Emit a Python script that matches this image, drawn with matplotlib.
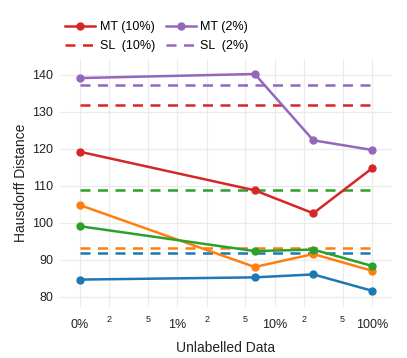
import matplotlib
matplotlib.use("Agg")
import matplotlib.pyplot as plt
from matplotlib.ticker import FixedLocator, FixedFormatter

plt.rcParams['font.family'] = ['Liberation Sans', 'DejaVu Sans']

x_vals = [0.1, 6.25, 25, 100]
mt_blue = [84.7, 85.3, 86.1, 81.7]
mt_orange = [104.8, 88.1, 91.6, 87.1]
mt_green = [99.1, 92.4, 92.8, 88.4]
mt_red = [119.2, 108.8, 102.6, 114.7]
mt_purple = [139.1, 140.2, 122.3, 119.7]

sl_blue = 91.8
sl_orange = 93.1
sl_green = 109.0
sl_red = 131.8
sl_purple = 137.2

major_ticks = [0.1, 1, 10, 100]
major_labels = ["0%", "1%", "10%", "100%"]
minor_ticks = [0.2, 0.5, 2, 5, 20, 50]
minor_labels = ["2", "5", "2", "5", "2", "5"]
y_ticks = [80, 90, 100, 110, 120, 130, 140]

colors = {'blue': '#1f77b4', 'orange': '#ff7f0e', 'green': '#2ca02c',
          'red': '#d62728', 'purple': '#9467bd'}

fig = plt.figure(figsize=(4.07, 3.58), dpi=100)
ax = fig.add_axes([60/407, 1-307/358, (392-60)/407, (307-59)/358])

handles = {}
for name, vals in [('blue', mt_blue), ('orange', mt_orange), ('green', mt_green),
                   ('red', mt_red), ('purple', mt_purple)]:
    h, = ax.plot(x_vals, vals, '-o', color=colors[name], lw=1.8, ms=5, zorder=3)
    handles['mt_' + name] = h
for name, v in [('blue', sl_blue), ('orange', sl_orange), ('green', sl_green),
                ('red', sl_red), ('purple', sl_purple)]:
    h, = ax.plot([x_vals[0], x_vals[-1]], [v, v], '--', color=colors[name],
                 lw=1.8, dashes=(4, 3), zorder=2)
    handles['sl_' + name] = h

ax.set_xscale('log')
ax.set_xlim(0.0623, 161)
ax.set_ylim(77.3, 144.25)
ax.xaxis.set_major_locator(FixedLocator(major_ticks))
ax.xaxis.set_major_formatter(FixedFormatter(major_labels))
ax.xaxis.set_minor_locator(FixedLocator(minor_ticks))
ax.xaxis.set_minor_formatter(FixedFormatter(minor_labels))
ax.set_yticks(y_ticks)
ax.tick_params(axis='both', which='both', length=0, colors='#222222')
ax.tick_params(axis='x', which='major', labelsize=9, pad=9)
ax.tick_params(axis='x', which='minor', labelsize=6.5, pad=6)
ax.tick_params(axis='y', labelsize=9, pad=5)
ax.grid(True, which='both', color='#ebebeb', lw=0.9)
ax.set_axisbelow(True)
for s in ax.spines.values():
    s.set_visible(False)

ax.set_xlabel('Unlabelled Data', fontsize=10, color='#222222', labelpad=7)
ax.set_ylabel('Hausdorff Distance', fontsize=10, color='#222222', labelpad=3)

leg = fig.legend([handles['mt_red'], handles['sl_red'], handles['mt_purple'], handles['sl_purple']],
                 ['MT (10%)', 'SL  (10%)', 'MT (2%)', 'SL  (2%)'],
                 ncol=2, loc='upper left', bbox_to_anchor=(54/407, 1-10/358),
                 frameon=False, fontsize=9, handlelength=2.4, columnspacing=0.8,
                 labelspacing=0.55, handletextpad=0.4)

fig.savefig('out.png', dpi=100)
